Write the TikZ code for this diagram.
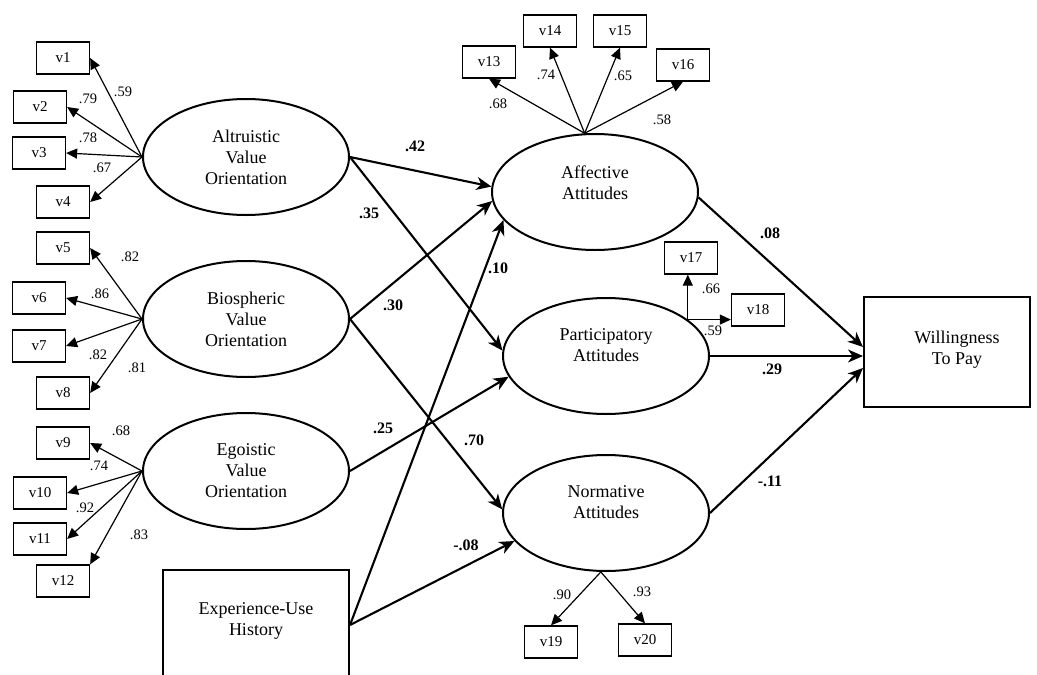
\documentclass[tikz,border=0pt]{standalone}
\usepackage{fontspec}
\setmainfont{Liberation Serif}
\usetikzlibrary{arrows.meta,shapes.geometric}
\begin{document}
\begin{tikzpicture}[x=1pt,y=-1pt,
  lat/.style={ellipse, draw, line width=2pt, minimum width=206pt, minimum height=116pt, inner sep=0pt},
  obs/.style={rectangle, draw, line width=1.3pt, minimum width=53pt, minimum height=32pt, inner sep=0pt, font=\fontsize{15}{17}\selectfont},
  big/.style={rectangle, draw, line width=2pt, inner sep=0pt},
  ttl/.style={align=center, font=\fontsize{18}{21}\selectfont, inner sep=0pt},
  spath/.style={line width=2.1pt, -{Stealth[length=15pt,width=13pt,inset=4.5pt]}},
  ind/.style={line width=1.2pt, -{Triangle[length=11pt,width=10pt]}},
  lo/.style={font=\fontsize{14.5}{16}\selectfont, inner sep=0pt},
  lb/.style={font=\bfseries\fontsize{16}{18}\selectfont, inner sep=0pt}
]
\useasboundingbox (0,0) rectangle (1037,675);

% latent variables
\node[lat,ttl] (alt) at (246,157) {Altruistic\\Value\\Orientation};
\node[lat,ttl] (bio) at (246,319) {Biospheric\\Value\\Orientation};
\node[lat,ttl] (ego) at (246,471) {Egoistic\\Value\\Orientation};
\node[lat] (aff) at (595,192) {};
\node[ttl] (afft) at (595,183) {Affective\\Attitudes};
\node[lat] (par) at (606,356) {};
\node[ttl] (part) at (606,345) {Participatory\\Attitudes};
\node[lat] (nor) at (606,513) {};
\node[ttl] (nort) at (606,502) {Normative\\Attitudes};

% big boxes
\node[big, minimum width=166pt, minimum height=110pt] (wtp) at (947,352) {};
\node[ttl] (wtpt) at (957,350) {Willingness\\To Pay};
\node[big, minimum width=186pt, minimum height=120pt] (exp) at (256,630) {};
\node[ttl] (expt) at (256,621) {Experience-Use\\History};

% observed indicators
\node[obs] (v1) at (63,58) {v1};
\node[obs] (v2) at (40,107) {v2};
\node[obs] (v3) at (39,153) {v3};
\node[obs] (v4) at (63,202) {v4};
\node[obs] (v5) at (63,248) {v5};
\node[obs] (v6) at (39,298) {v6};
\node[obs] (v7) at (39,346) {v7};
\node[obs] (v8) at (63,393) {v8};
\node[obs] (v9) at (63,443) {v9};
\node[obs] (v10) at (40,493) {v10};
\node[obs] (v11) at (40,539) {v11};
\node[obs] (v12) at (63,581) {v12};
\node[obs] (v13) at (489,62) {v13};
\node[obs] (v14) at (550,31) {v14};
\node[obs] (v15) at (620,31) {v15};
\node[obs] (v16) at (683,65) {v16};
\node[obs] (v17) at (691,258) {v17};
\node[obs] (v18) at (758,310) {v18};
\node[obs] (v19) at (551,642) {v19};
\node[obs] (v20) at (645,640) {v20};

% indicator arrows
\foreach \v in {1,2,3,4} \draw[ind] (alt.west) -- (v\v.east);
\foreach \v in {5,6,7,8} \draw[ind] (bio.west) -- (v\v.east);
\foreach \v in {9,10,11} \draw[ind] (ego.west) -- (v\v.east);
\draw[ind] (ego.west) -- (v12.north east);
\foreach \v in {13,14,15,16} \draw[ind] (aff.100) -- (v\v.south);
\draw[ind] (par.24) -- (par.24 |- v17.south);
\draw[ind] (par.24) -- (par.24 -| v18.west);
\draw[ind] (nor.265) -- (v19.north);
\draw[ind] (nor.265) -- (v20.north);

% structural paths
\draw[spath] (alt.east) -- (aff.177);
\draw[spath] (alt.east) -- (par.177);
\draw[spath] (bio.east) -- (aff.185);
\draw[spath] (bio.east) -- (nor.178);
\draw[spath] (ego.east) -- (par.192);
\draw[spath] ([yshift=5pt]exp.east) -- (aff.197);
\draw[spath] ([yshift=5pt]exp.east) -- (nor.197);
\draw[spath] (aff.357) -- ([yshift=5pt]wtp.west);
\draw[spath] (par.east) -- (par.east -| wtp.west);
\draw[spath] (nor.east) -- ([yshift=-16pt]wtp.west);

% loading labels
\node[lo] at (123,92) {.59};
\node[lo] at (88,99) {.79};
\node[lo] at (88,138) {.78};
\node[lo] at (102,168) {.67};
\node[lo] at (130,257) {.82};
\node[lo] at (100,294) {.86};
\node[lo] at (98,355) {.82};
\node[lo] at (137,368) {.81};
\node[lo] at (121,431) {.68};
\node[lo] at (99,466) {.74};
\node[lo] at (85,508) {.92};
\node[lo] at (139,535) {.83};
\node[lo] at (498,104) {.68};
\node[lo] at (546,75) {.74};
\node[lo] at (623,76) {.65};
\node[lo] at (662,120) {.58};
\node[lo] at (711,289) {.66};
\node[lo] at (713,331) {.59};
\node[lo] at (562,595) {.90};
\node[lo] at (642,592) {.93};

% path coefficients
\node[lb] at (415,146) {.42};
\node[lb] at (369,213) {.35};
\node[lb] at (498,268) {.10};
\node[lb] at (393,305) {.30};
\node[lb] at (383,428) {.25};
\node[lb] at (474,440) {.70};
\node[lb] at (466,545) {-.08};
\node[lb] at (770,233) {.08};
\node[lb] at (772,369) {.29};
\node[lb] at (770,481) {-.11};
\end{tikzpicture}
\end{document}
